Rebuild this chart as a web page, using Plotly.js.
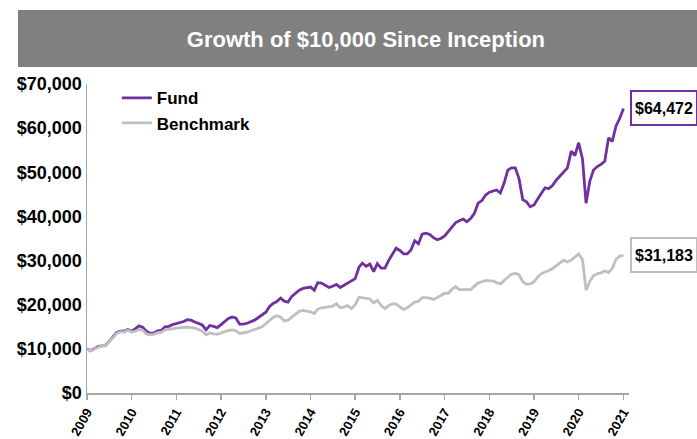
<!DOCTYPE html>
<html><head><meta charset="utf-8">
<script src="https://cdn.plot.ly/plotly-3.0.1.min.js"></script>
<style>html,body{margin:0;padding:0;background:#fff}#chart{width:697px;height:439px}</style>
</head><body><div id="chart"></div>
<script>
// Monthly series, Jan 2009 .. Jan 2021
const startYear = 2009;
const fundValues = [
 10000, 9600, 10000, 10500, 10700, 10800, 11700, 12700, 13700, 14000, 14000, 14400,
 14000, 14600, 15200, 14900, 14000, 13500, 13600, 14100, 14200, 15000, 15100, 15500,
 15700, 15900, 16200, 16600, 16500, 16100, 15800, 15400, 14300, 15300, 15100, 14800,
 15500, 16300, 16900, 17200, 17000, 15600, 15600, 15800, 16100, 16500, 17100, 17600,
 18300, 19600, 20300, 20700, 21500, 20800, 20600, 21900, 22600, 23300, 23700, 23900,
 24000, 23300, 25000, 24900, 24500, 23900, 24200, 24600, 23900, 24400, 24900, 25300,
 25900, 28500, 29400, 28700, 29200, 27500, 29300, 28300, 28300, 30000, 31300, 32800,
 32300, 31500, 31500, 32400, 34500, 33800, 36000, 36200, 35900, 35200, 34700, 35000,
 35600, 36600, 37600, 38600, 39000, 39400, 38800, 39500, 40700, 43000, 43600, 44800,
 45500, 45700, 46000, 45300, 47500, 50500, 51000, 51000, 48500, 43800, 43300, 42200,
 42600, 44000, 45300, 46500, 46300, 47000, 48200, 49200, 50100, 51000, 54800, 53800,
 56700, 53000, 43000, 48000, 50500, 51300, 51800, 52500, 57800, 57000, 60500, 62200,
 64472
];
const benchmarkValues = [
 10000, 9500, 9900, 10400, 10700, 10700, 11500, 12500, 13500, 13900, 13800, 14200,
 13800, 14000, 14400, 14200, 13400, 13200, 13300, 13700, 13800, 14300, 14400, 14600,
 14700, 14800, 14900, 14900, 14800, 14700, 14400, 14000, 13200, 13600, 13400, 13300,
 13600, 13900, 14200, 14300, 14100, 13500, 13600, 13800, 14100, 14400, 14700, 15000,
 15700, 16500, 17100, 17500, 17200, 16300, 16500, 17200, 17800, 18500, 18700, 18500,
 18400, 18000, 19000, 19300, 19400, 19500, 19700, 20200, 19300, 19500, 19800, 19100,
 20000, 21700, 21600, 21400, 21300, 20400, 21000, 19800, 19100, 19800, 20200, 20200,
 19500, 18900, 19300, 19900, 20600, 20800, 21600, 21600, 21500, 21200, 21600, 22100,
 22600, 22600, 23500, 24100, 23400, 23400, 23400, 23400, 24200, 24900, 25200, 25500,
 25400, 25400, 25000, 24700, 25500, 26300, 26900, 27100, 26800, 25200, 24600, 24700,
 25200, 26300, 27000, 27400, 27700, 28200, 28900, 29500, 30100, 29700, 30100, 30700,
 31500, 30200, 23300, 25300, 26600, 27000, 27200, 27700, 27300, 28200, 30300, 31000,
 31183
];
const seriesNames = ["Fund", "Benchmark"];
const endLabels = ["$64,472", "$31,183"];
const titleText = "Growth of $10,000 Since Inception";

const months = fundValues.map((_, i) => {
  const y = startYear + Math.floor(i / 12), m = (i % 12) + 1;
  return y + "-" + String(m).padStart(2, "0") + "-01";
});

const FONT = "Liberation Sans, Arial, sans-serif";
const purple = "#7030A0", grey = "#BFBFBF";

const traces = [
  {x: months, y: fundValues, name: seriesNames[0], type: "scatter", mode: "lines",
   line: {color: purple, width: 2.8}},
  {x: months, y: benchmarkValues, name: seriesNames[1], type: "scatter", mode: "lines",
   line: {color: grey, width: 2.8}}
];

const last = months.length - 1;
const layout = {
  width: 697, height: 439,
  margin: {l: 87, r: 68, t: 84, b: 46},
  paper_bgcolor: "#fff", plot_bgcolor: "#fff",
  font: {family: FONT, color: "#000"},
  showlegend: true,
  title: {text: titleText, x: 0.525, xref: "container", xanchor: "center",
          y: 1 - 39/439, yref: "container", yanchor: "middle",
          font: {family: FONT, size: 22, color: "#fff", weight: "bold"}},
  legend: {x: 0.055, y: 1.012, xanchor: "left", yanchor: "top", bgcolor: "rgba(0,0,0,0)",
           font: {family: FONT, size: 17, weight: "bold", color: "#000"},
           itemwidth: 30, tracegroupgap: 0},
  xaxis: {type: "date", range: ["2009-01-01", "2021-02-15"], tick0: "2009-01-01", dtick: "M12",
          tickformat: "%Y", tickangle: -60, ticks: "outside", ticklen: 5, tickwidth: 1.5,
          tickcolor: "#A6A6A6", showline: true, linecolor: "#A6A6A6", linewidth: 1.5,
          showgrid: false, zeroline: false,
          tickfont: {family: FONT, size: 13, weight: "bold", color: "#000"}},
  yaxis: {range: [0, 70000], dtick: 10000, tickprefix: "$", tickformat: ",.0f",
          showline: true, linecolor: "#A6A6A6", linewidth: 1.5, ticks: "",
          showgrid: false, zeroline: false,
          tickfont: {family: FONT, size: 18, weight: "bold", color: "#000"}},
  shapes: [
    {type: "rect", xref: "paper", yref: "paper", x0: -69/542, x1: 615/542,
     y0: 1 + 17/309, y1: 1 + 74/309, fillcolor: "#808080", line: {width: 0}, layer: "below"}
  ],
  annotations: [
    {x: months[last], y: fundValues[last], xref: "x", yref: "y", text: endLabels[0],
     showarrow: false, xanchor: "left", yanchor: "middle", xshift: 7, height: 26,
     font: {family: FONT, size: 16, weight: "bold", color: "#000"},
     bordercolor: purple, borderwidth: 2, borderpad: 3, bgcolor: "#fff"},
    {x: months[last], y: benchmarkValues[last], xref: "x", yref: "y", text: endLabels[1],
     showarrow: false, xanchor: "left", yanchor: "middle", xshift: 7, height: 26,
     font: {family: FONT, size: 16, weight: "bold", color: "#000"},
     bordercolor: grey, borderwidth: 2, borderpad: 3, bgcolor: "#fff"}
  ]
};
Plotly.newPlot("chart", traces, layout, {displayModeBar: false, staticPlot: true});
</script></body></html>
